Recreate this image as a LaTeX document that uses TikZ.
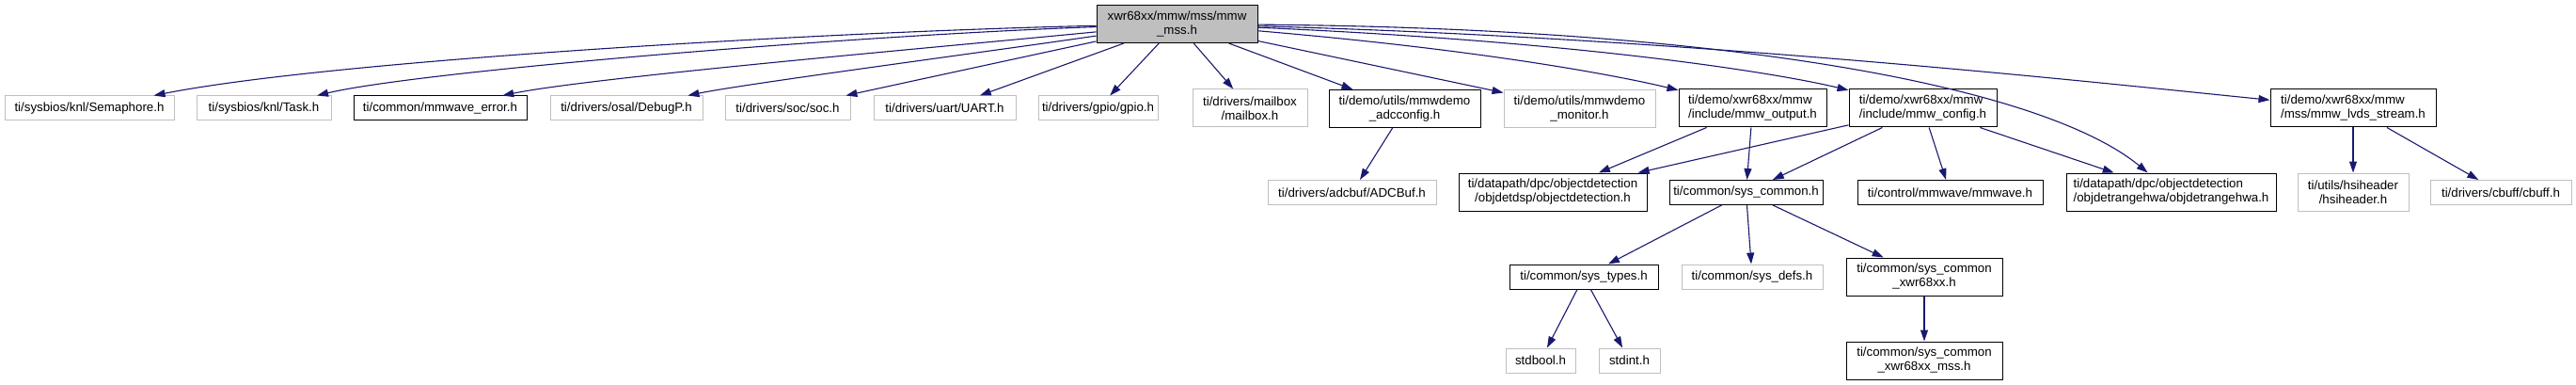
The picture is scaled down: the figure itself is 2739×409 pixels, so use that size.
\documentclass[tikz,border=0pt]{standalone}
\usepackage{fontspec}
\setmainfont{Liberation Sans}
\usetikzlibrary{arrows.meta}
\definecolor{edgeblue}{RGB}{25,25,112}
\definecolor{extgrey}{RGB}{191,191,191}

\begin{document}
\begin{tikzpicture}[
  x=1pt, y=-1pt,
  box/.style={rectangle, inner sep=0pt, fill=white, line width=1pt, align=center,
              font=\fontsize{13.3}{15}\selectfont, minimum height=26},
  ext/.style={box, draw=extgrey},
  incl/.style={box, draw=black},
  focus/.style={box, draw=black, fill=extgrey},
  tall/.style={minimum height=40},
  arr/.style={-{Triangle[length=12pt, width=8pt]}, draw=edgeblue, line width=1.1pt}
]
\useasboundingbox (0,0) rectangle (2739,409);

\node[focus, tall, minimum width=171] (root) at (1251.5,25.5) {xwr68xx/mmw/mss/mmw\\\_mss.h};

\node[ext, minimum width=180] (semaphore) at (95,115) {ti/sysbios/knl/Semaphore.h};
\node[ext, minimum width=143] (task) at (280.5,115) {ti/sysbios/knl/Task.h};
\node[incl, minimum width=184] (mmwerr) at (468,115) {ti/common/mmwave\_error.h};
\node[ext, minimum width=162] (debugp) at (666,115) {ti/drivers/osal/DebugP.h};
\node[ext, minimum width=133] (soc) at (837.5,115) {ti/drivers/soc/soc.h};
\node[ext, minimum width=151] (uart) at (1004.5,115) {ti/drivers/uart/UART.h};
\node[ext, minimum width=127] (gpio) at (1167.5,115) {ti/drivers/gpio/gpio.h};
\node[ext, tall, minimum width=122] (mailbox) at (1329,115) {ti/drivers/mailbox\\/mailbox.h};
\node[incl, tall, minimum width=161] (adccfg) at (1493.5,115.5) {ti/demo/utils/mmwdemo\\\_adcconfig.h};
\node[ext, tall, minimum width=161] (monitor) at (1679.5,115.5) {ti/demo/utils/mmwdemo\\\_monitor.h};
\node[incl, tall, minimum width=157, align=left] (mmwout) at (1863.5,115) {ti/demo/xwr68xx/mmw\\/include/mmw\_output.h};
\node[incl, tall, minimum width=157, align=left] (mmwcfg) at (2044.5,115) {ti/demo/xwr68xx/mmw\\/include/mmw\_config.h};
\node[incl, tall, minimum width=176, align=left] (lvds) at (2502,115) {ti/demo/xwr68xx/mmw\\/mss/mmw\_lvds\_stream.h};

\node[ext, minimum width=179] (adcbuf) at (1437.5,204.5) {ti/drivers/adcbuf/ADCBuf.h};
\node[incl, tall, minimum width=200] (objdsp) at (1651,204) {ti/datapath/dpc/objectdetection\\/objdetdsp/objectdetection.h};
\node[incl, minimum width=163] (syscommon) at (1856.5,204.5) {ti/common/sys\_common.h};
\node[incl, minimum width=197] (mmwave) at (2073.5,204.5) {ti/control/mmwave/mmwave.h};
\node[incl, tall, minimum width=223, align=left] (objrange) at (2308.5,204) {ti/datapath/dpc/objectdetection\\/objdetrangehwa/objdetrangehwa.h};
\node[ext, tall, minimum width=118] (hsi) at (2502,204) {ti/utils/hsiheader\\/hsiheader.h};
\node[ext, minimum width=150] (cbuff) at (2659,204.5) {ti/drivers/cbuff/cbuff.h};

\node[incl, minimum width=158] (systypes) at (1684,294) {ti/common/sys\_types.h};
\node[ext, minimum width=150] (sysdefs) at (1863,294) {ti/common/sys\_defs.h};
\node[incl, tall, minimum width=166] (sysxwr) at (2046,294) {ti/common/sys\_common\\\_xwr68xx.h};

\node[ext, minimum width=74] (stdbool) at (1638,383) {stdbool.h};
\node[ext, minimum width=65] (stdint) at (1732.5,383) {stdint.h};
\node[incl, tall, minimum width=166] (sysmss) at (2046,383) {ti/common/sys\_common\\\_xwr68xx\_mss.h};

\draw[arr] (root) .. controls (900,33) and (359,63) .. (semaphore);
\draw[arr] (root) .. controls (900,38) and (444,76) .. (task);
\draw[arr] (root) .. controls (1000,50) and (630,82) .. (mmwerr);
\draw[arr] (root) .. controls (1050,55) and (792,89) .. (debugp);
\draw[arr] (root) .. controls (1100,58) and (943,92) .. (soc);
\draw[arr] (root) -- (uart); \draw[arr] (root) -- (gpio); \draw[arr] (root) -- (mailbox);
\draw[arr] (root) -- (adccfg); \draw[arr] (root) -- (monitor);
\draw[arr] (root) .. controls (1600,55) and (1740,85) .. (mmwout);
\draw[arr] (root) .. controls (1700,45) and (1900,80) .. (mmwcfg);
\draw[arr] (root) .. controls (1850,30) and (2175,94) .. (objrange);
\draw[arr] (root) .. controls (1800,40) and (2250,90) .. (lvds);

\draw[arr] (adccfg) -- (adcbuf);
\draw[arr] (mmwout) -- (objdsp); \draw[arr] (mmwout) -- (syscommon);
\draw[arr] (mmwcfg) -- (objdsp); \draw[arr] (mmwcfg) -- (syscommon);
\draw[arr] (mmwcfg) -- (mmwave); \draw[arr] (mmwcfg) -- (objrange);
\draw[arr] (lvds) -- (hsi); \draw[arr] (lvds) -- (cbuff);
\draw[arr] (syscommon) -- (systypes); \draw[arr] (syscommon) -- (sysdefs); \draw[arr] (syscommon) -- (sysxwr);
\draw[arr] (systypes) -- (stdbool); \draw[arr] (systypes) -- (stdint);
\draw[arr] (sysxwr) -- (sysmss);
\end{tikzpicture}
\end{document}
